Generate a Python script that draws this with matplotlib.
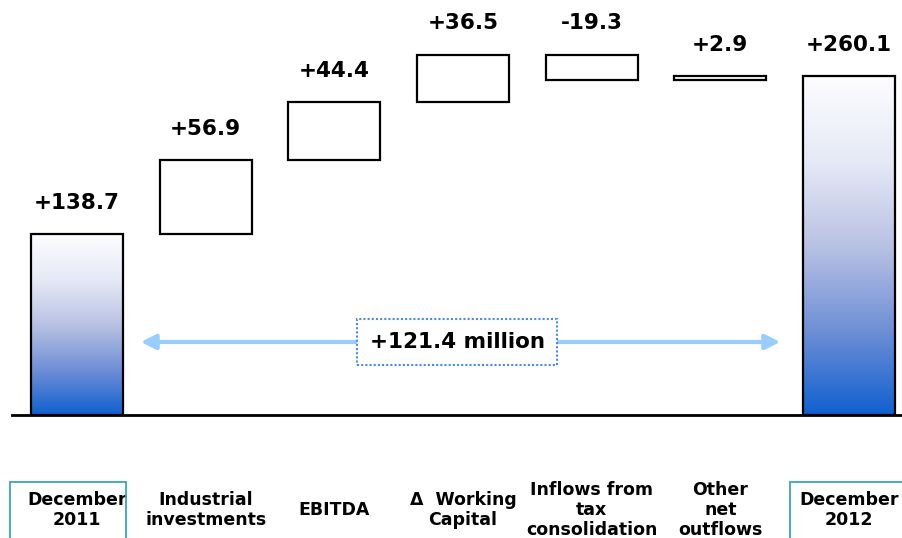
import numpy as np
import matplotlib.pyplot as plt
from matplotlib.patches import Rectangle, FancyArrowPatch
from matplotlib.colors import LinearSegmentedColormap

# cash flow bridge, EUR million
cats = ['December\n2011', 'Industrial\ninvestments', 'EBITDA', '\u0394  Working\nCapital',
        'Inflows from\ntax\nconsolidation', 'Other\nnet\noutflows', 'December\n2012']
start = 138.7
deltas = [56.9, 44.4, 36.5, -19.3, 2.9]
end = 260.1
diff_label = '+121.4 million'

fig = plt.figure(figsize=(9.02, 5.38), dpi=100)
ax = fig.add_axes([0, 0, 1, 1])
pxu = 339 / 260.1          # pixels per unit on y
pxx = 128.67               # pixels per category
ax.set_ylim(-123 / pxu, 415 / pxu)
ax.set_xlim(-77 / pxx, (902 - 77) / pxx)
ax.axis('off')

w = 92 / pxx
grad = LinearSegmentedColormap.from_list('g', ['#1060d0', '#6f8fd6', '#b9c2e4', '#e6e9f6', '#fdfdff'])
img = np.linspace(0, 1, 256).reshape(-1, 1)

def total_bar(x, v):
    ax.imshow(img, cmap=grad, origin='lower', aspect='auto',
              extent=(x - w / 2, x + w / 2, 0, v), zorder=2)
    ax.add_patch(Rectangle((x - w / 2, 0), w, v, fill=False, ec='black', lw=1.6, zorder=3))

def label(x, top, txt):
    ax.annotate(txt, (x, top), xytext=(0, 22.5), textcoords='offset points',
                ha='center', va='center', fontsize=15.5, fontweight='bold')

total_bar(0, start)
label(0, start, f'+{start}')

level = start
for i, d in enumerate(deltas, start=1):
    lo, hi = min(level, level + d), max(level, level + d)
    ax.add_patch(Rectangle((i - w / 2, lo), w, hi - lo, fc='white', ec='black', lw=1.6, zorder=3))
    label(i, max(hi, level), f'{d:+.1f}')
    level += d

total_bar(6, end)
label(6, end, f'+{end}')

ax.plot([12 / pxx - 77 / pxx, 6.5], [0, 0], color='black', lw=2, zorder=4)

# difference arrow
ya = (415 - 342) / pxu
arr = FancyArrowPatch(((138 - 77) / pxx, ya), ((783 - 77) / pxx, ya), arrowstyle='<|-|>',
                      mutation_scale=22, color='#99ccff', lw=3, zorder=3)
ax.add_patch(arr)
ax.text((457 - 77) / pxx, ya, diff_label, ha='center', va='center', fontsize=15.5,
        fontweight='bold', zorder=5,
        bbox=dict(boxstyle='square,pad=0.6', fc='white', ec='#4a8af0', lw=1.5, ls=(0, (1, 1))))

# category labels
yl = (415 - 510) / pxu
for i, c in enumerate(cats):
    ax.text(i, yl, c, ha='center', va='center', fontsize=12.5, fontweight='bold', linespacing=1.15)
for i in (0, 6):
    x0 = (10 - 77) / pxx if i == 0 else (790 - 77) / pxx
    ax.add_patch(Rectangle((x0, (415 - 560) / pxu), 116 / pxx, 78 / pxu, fill=False,
                           ec='#3aa8a8', lw=1.3, zorder=3, clip_on=False))

fig.savefig('out.png', dpi=100)
